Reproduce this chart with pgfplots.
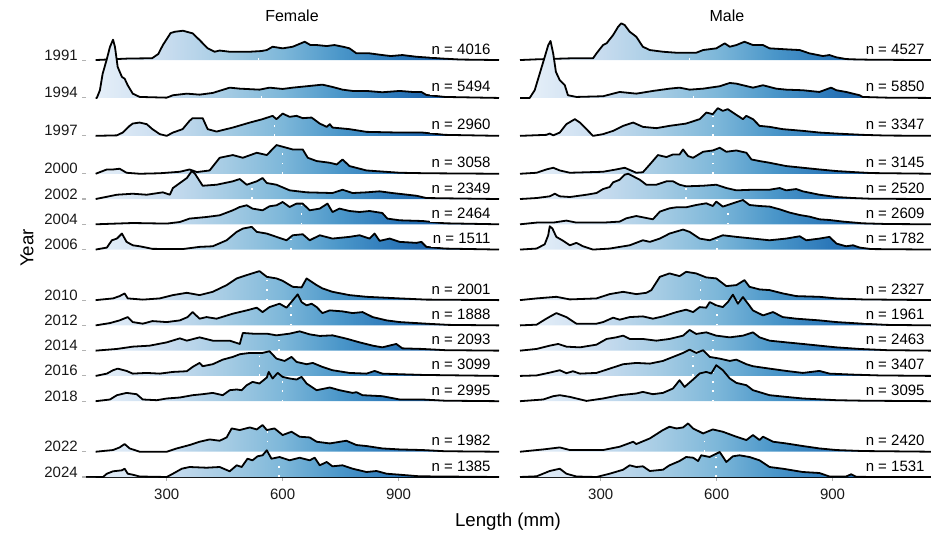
\documentclass[border=0pt]{standalone}
\usepackage{pgfplots}
\pgfplotsset{compat=1.18}
\usepackage{pgfplotstable}
\usepackage{fontspec}
\setmainfont{Liberation Sans}

\definecolor{rA}{HTML}{EAF2FA}
\definecolor{rB}{HTML}{C8DCEF}
\definecolor{rC}{HTML}{A6CCE4}
\definecolor{rD}{HTML}{7DB7D9}
\definecolor{rE}{HTML}{4A96C9}
\definecolor{rF}{HTML}{2A76B8}
\definecolor{rG}{HTML}{1B5FA6}
\definecolor{rH}{HTML}{08519C}
\pgfdeclarehorizontalshading{ridgeshade}{100bp}{color(0bp)=(rA); color(25bp)=(rA); color(34.8bp)=(rB); color(41.8bp)=(rC); color(48.8bp)=(rD); color(55.8bp)=(rE); color(62.8bp)=(rF); color(67.5bp)=(rG); color(75bp)=(rH); color(100bp)=(rH)}

% ---------------- Female ----------------
\pgfplotstableread{
x h
91 0
116 0
200 1.5
262 1.8
278 6
290 15
300 21
310 27
321 28.3
342 29.3
367 26.7
385 20
406 11.7
424 8.3
437 9.5
463 8.3
515 8.3
545 9
559 10
574 13.3
600 11.7
626 13.3
657 18.3
672 15
688 15
714 14
734 15
760 13
773 11.7
791 6.7
825 6.7
858 5
880 4
910 5
946 3.3
1013 1.5
1060 0.5
1160 0
}\FA
\pgfplotstableread{
x h
91 0
116 0
119 0
127 7.7
134 24
145 39
153 51
161 58.3
166 51
173 31
184 21
191 19.3
199 12.7
212 4.3
230 1
300 0.3
316 2.7
352 4.3
385 3.3
419 5
463 10.3
489 9.3
540 8.3
566 10.3
600 9
626 10.3
662 11.7
703 13.3
729 11
755 8.3
781 7
817 7
858 5.7
903 7
936 6
959 6
972 3
1020 1
1160 0
}\FB
\pgfplotstableread{
x h
91 0
116 0
171 0.5
186 3.3
204 10
212 12.3
230 13.3
248 11.7
263 6.7
282 1.7
300 0
316 3.3
341 6.7
359 15
367 17.7
393 17.7
406 6.7
429 4.3
471 8.3
515 13.3
548 16.7
574 20
584 16.7
600 22.3
618 19
636 20
652 17.7
675 18.3
696 12.3
714 9
722 11.7
729 8.3
773 6.7
817 4
903 3.3
962 3.3
1020 1
1160 0
}\FC
\pgfplotstableread{
x h
91 0
116 0
145 4.3
161 4.3
178 5
196 1
230 0
282 0.5
334 2
359 4.3
378 1.7
411 3.3
437 16
471 18.7
497 16
533 21
559 18.7
584 28.7
610 26
626 24.3
652 24.3
665 16
688 12.7
722 11
740 9.3
755 14.3
773 7.7
817 3.3
903 1
972 0.5
1160 0
}\FD
\pgfplotstableread{
x h
91 0
116 0
171 4.3
212 5.3
248 4.3
290 6.7
308 4.3
316 11
334 16
352 21
365 28
373 25.3
393 13.3
429 14.3
471 17.7
489 20
507 14.3
533 17.7
548 21
559 16
584 14.3
618 8.7
662 6.7
729 6
755 9.3
781 6
817 6.7
851 7.7
884 6
946 3.3
972 1
1160 0
}\FE
\pgfplotstableread{
x h
91 0
116 0
212 1.3
300 0.7
334 2.3
359 5.7
403 7.3
437 9
471 14
489 17.3
507 19
522 15.7
548 14
566 18
584 19
600 22.3
618 17.3
636 20.7
652 20.7
670 14
696 15.7
716 20.7
729 12.3
747 15.7
773 13.3
799 12.3
825 13.3
858 11.3
871 5.7
903 4
962 3.3
1020 1
1160 0
}\FF
\pgfplotstableread{
x h
91 0
116 0
145 2
158 9.3
171 11
184 16
196 7.7
212 4.3
230 3.3
263 0.7
341 0.5
385 2.7
419 3.3
455 9.3
481 17.7
497 21
520 22.7
533 17.7
559 16
584 12.7
610 9.3
626 14.3
652 15.3
670 9.3
696 14.3
729 11
773 12.7
799 14.3
825 11
838 16
851 8.7
877 11
903 7.7
946 6.7
959 7.7
972 2.7
1020 1
1160 0
}\FG
\pgfplotstableread{
x h
91 0
116 0
161 1.7
178 4
191 6.7
199 1.7
238 0.5
282 1.7
316 5
352 7.3
385 5
419 8.3
455 15
481 21.7
507 25
540 29
559 23.3
584 21.7
600 19.3
626 13.3
649 12.7
662 21.7
688 15
703 11.7
729 8.3
773 5
817 3.3
903 1.7
972 0.5
1160 0
}\FH
\pgfplotstableread{
x h
91 0
116 0
153 2.3
178 5
199 8.3
212 3.3
238 1.7
263 4.3
300 3.3
334 5
354 8.3
367 13.3
385 6.7
403 8.3
429 6.7
471 11.7
507 15
533 17.7
548 13.3
566 18.3
592 21.7
610 17.7
626 25
639 31
649 23.3
662 20
675 21.7
688 18.3
703 12.3
722 15
755 14
781 12.3
807 13.3
833 8.3
869 5
903 3.3
972 1.7
1030 0.5
1160 0
}\FI
\pgfplotstableread{
x h
91 0
116 0
171 1.7
212 4
256 5
300 8.3
334 12.3
352 10
385 13.3
419 10
463 10
489 6.7
497 17.7
522 17
559 17
584 15.3
618 17
644 19.3
670 16.3
696 14.7
729 15.3
765 12
799 8.3
833 5
858 3.3
894 6.7
910 2.3
962 1.7
1020 0.5
1160 0
}\FJ
\pgfplotstableread{
x h
91 0
116 0
145 2.3
161 5.7
173 7.3
196 5
212 2.3
248 3
282 2.3
316 4
352 4.7
367 9
385 13
393 9.7
419 11.7
445 16.3
471 19
489 21.7
515 23
548 23
566 24.7
584 17.3
605 15
623 19
636 14
662 11.7
678 13
703 9
729 5.7
773 3
817 2.3
838 5
858 2.3
903 1.7
962 1
1160 0
}\FK
\pgfplotstableread{
x h
91 0
116 0
153 1.7
171 6
196 8.3
222 7
238 1.7
274 1
300 2.7
334 3.7
367 6
393 7
419 8.3
445 6
463 11
481 11.7
494 11
507 16
522 19.3
540 17.7
559 23.7
564 29.3
574 22.7
587 28.3
600 24.3
618 22.7
636 21.7
649 24.3
662 17.7
688 11
722 13.7
747 11
781 8.3
791 9
807 6
858 5
903 1.7
962 1.7
1020 0.5
1160 0
}\FL
\pgfplotstableread{
x h
91 0
116 0
161 1.7
178 4.3
191 7.7
204 3.3
230 0
300 0
326 3.3
359 6.7
385 10
411 12.3
437 11
455 14.3
468 23.3
489 21.7
515 24.3
533 22.3
548 26.7
559 21.7
579 23.3
600 16.7
623 20
644 15
670 14.3
688 10
722 8.3
765 11
791 6.7
817 5.7
858 3.3
903 2.3
962 1.7
1020 0.5
1160 0
}\FM
\pgfplotstableread{
x h
91 0
116 0
135 0
145 3.3
161 5.7
184 6.7
191 8.3
199 3.3
212 2.3
230 0.5
300 0
316 3.3
339 8.3
359 10
403 9.3
437 10
463 5.7
481 11.7
494 10
509 18.3
522 16.7
535 20.7
548 21.7
559 26.7
571 18.3
592 20
618 16.7
644 19.3
670 16.7
683 19.3
696 11.7
714 15
729 10.7
755 11.7
781 8.3
817 5
843 6
869 3.3
903 2.3
954 0.7
1160 0
}\FN

% ---------------- Male ----------------
\pgfplotstableread{
x h
91 0
134 0.7
220 1.7
280 1.7
289 6.7
306 15
315 16.7
332 25
345 33.3
353 36.7
362 35
375 28.3
392 23.3
409 13.3
427 10
461 8.3
496 7.3
547 7.3
565 10
599 11.7
621 16.7
634 13.3
651 15
672 18.3
694 15
720 15
737 11.7
780 10.7
815 10
840 6.7
875 4
892 5
910 2.7
935 1
953 0.7
1000 0.3
1160 0
}\MA
\pgfplotstableread{
x h
91 0
116 0
129 7.7
142 24.3
155 41
164 52.7
170 57
177 44.3
184 26
194 17.7
207 12.7
215 2.7
237 1
306 1.7
349 6
392 4.3
435 7
478 9.3
504 10.3
530 8.3
565 9.3
608 11.7
634 15
651 14.3
694 10.3
720 12.7
754 9.3
780 8.3
823 7.7
866 6
896 10.3
910 7.7
935 6
970 2.7
978 1
1040 0.3
1160 0
}\MB
\pgfplotstableread{
x h
91 0
159 1
168 2.3
177 0.5
194 3.3
211 11.7
233 16.7
246 13.3
263 6.7
280 0
306 1.7
332 5
358 10
384 13.3
409 9
444 7.7
478 10
521 12.3
556 16.7
573 23.3
590 21.7
603 27.7
616 25
629 26.7
642 23.3
655 20
668 16.7
677 20
694 16.7
711 10
737 9
771 6.7
823 5
866 3.3
910 2.3
978 1
1040 0.3
1160 0
}\MC
\pgfplotstableread{
x h
91 0
134 1
159 4.3
177 6
194 3.3
220 1
306 2
340 4.3
362 6
392 1
409 1.5
427 9.3
448 18.7
470 16.7
487 19.3
504 19.3
513 24.3
526 17.7
539 16
565 22
590 23.3
608 26
625 22
651 23.3
677 21
690 14.3
711 12.7
737 11
780 7.7
823 6
866 4.3
910 2.7
953 1.7
1000 0.7
1160 0
}\MD
\pgfplotstableread{
x h
91 0
134 1
168 2.7
181 5.3
194 2.7
220 2
263 4.3
289 6
306 10
323 12
332 16.7
349 19.3
362 24.3
371 25.3
384 22.7
401 19.3
418 14.3
444 14.3
470 17.7
487 17.7
504 14.3
521 12.7
565 13.3
599 14.3
625 11
651 8.7
694 9.3
737 9.3
763 11
780 8.7
806 10
823 7.7
866 4.3
910 2
953 1
1000 0.3
1160 0
}\ME
\pgfplotstableread{
x h
91 0
134 1.7
177 1.7
211 3.7
237 1.7
306 1.7
349 2.7
366 6
392 8.3
409 7
435 5
453 12.7
478 16
496 17
521 17
547 19.3
573 21
590 18.3
599 22.7
616 17.7
642 21
668 24.3
685 19.3
711 18.3
737 17.7
763 15
789 11.7
815 9.3
840 7.7
866 5
892 4.3
927 2.7
978 1
1040 0.3
1160 0
}\MF
\pgfplotstableread{
x h
91 0
134 1
155 5.3
164 14.3
168 23.3
175 21
185 12.7
203 8.7
220 4.3
237 6.7
254 3.3
280 0
323 1
375 4.3
409 9.3
427 7.7
453 11
478 16
513 20
530 17.7
556 11
582 9.3
616 14.3
651 12.7
694 11
737 9.3
780 11
815 13.3
832 9.3
866 11
892 12.7
910 6
935 3.3
953 4.3
970 2
1000 0.5
1160 0
}\MG
\pgfplotstableread{
x h
91 0
134 1.7
185 3.3
220 0.7
289 1.7
323 6
358 8.3
392 6
418 7.3
431 10
453 23.3
478 26.7
504 24
521 28.3
547 26.7
573 22.7
599 21.7
625 14
651 15
672 20
685 13.3
711 10.7
737 10
771 6.7
806 4
866 3.3
910 1.7
978 0.7
1160 0
}\MH
\pgfplotstableread{
x h
91 0
134 0.7
159 6.7
185 12.3
211 8.3
237 1.7
289 1.7
306 3.3
332 7.7
349 5.7
375 8.3
409 9
435 6.7
461 9
496 13.3
521 15.7
539 13.3
556 18.3
573 17.7
582 23.3
599 20
616 18.3
629 23.3
642 30.7
655 21.7
668 28.3
681 21.7
694 15
720 10
746 13.3
771 8.3
806 6.7
866 5
910 3.3
978 1.7
1040 0.5
1160 0
}\MI
\pgfplotstableread{
x h
91 0
134 1.7
168 5
190 6.7
211 4
246 3.3
289 6
315 11.7
340 13.3
358 15
375 11.7
409 11.7
444 10
478 11.7
513 15
530 20.7
547 16.7
573 18.3
599 15
634 13.3
668 15
694 18.3
711 13.3
737 10
780 8.3
823 6.7
866 5
910 3.3
970 1.7
1040 0.5
1160 0
}\MJ
\pgfplotstableread{
x h
91 0
134 0.5
168 3.3
194 5.7
211 2.7
228 4.7
246 2.3
289 3
323 7.3
358 11.7
392 13
427 12.3
461 15
487 19
513 23
530 26.3
547 23
565 25.7
582 19
608 17.3
634 15
651 16.3
677 11.7
694 9.7
737 7.3
780 5
823 3
866 5
892 2.3
953 1.3
1020 0.5
1160 0
}\MK
\pgfplotstableread{
x h
91 0
151 1.7
177 5
194 6
220 4.3
263 0.3
306 2.7
349 6
392 7.7
409 9.3
435 7
461 8.3
487 12.7
504 21
517 14.3
539 21.7
556 27.7
573 29.3
586 27.7
599 36
616 31
634 22.7
651 18.3
677 16
694 11
737 6
780 4.3
823 2.7
910 1
978 0.5
1160 0
}\ML
\pgfplotstableread{
x h
91 0
151 2.3
194 4.3
220 1.7
306 1.7
349 5
384 10
392 7.7
427 13.3
461 21.7
478 25
496 23.3
513 24.3
526 28.3
539 23.3
565 18.3
590 22.3
616 20
651 15
677 11.7
694 16.7
711 11.7
720 15
746 10
780 8.3
823 5.7
866 3.3
910 1.7
978 0.7
1160 0
}\MM
\pgfplotstableread{
x h
91 0
134 0.7
168 6
194 8.3
211 3.3
237 0.5
289 0
323 3.3
358 7.3
375 11.7
392 10
409 10.7
427 6
461 7.3
478 11.7
504 16
521 20
539 19.3
552 16
560 21.7
582 20
608 25
625 15
642 20.7
659 21.7
685 20
711 16.7
737 10
771 8.3
823 5
866 4
892 0.5
935 0.5
948 2.7
961 0.3
1000 0
1160 0
}\MN

\pgfplotsset{
  rid/.style={y filter/.expression={-#1+y/12.636}},
  ridgeaxis/.style={
    scale only axis, width=309.75pt, height=350.625pt,
    xmin=91, xmax=1160, ymin=-2024, ymax=-1987,
    clip=false,
    axis x line*=bottom, axis y line*=left,
    y axis line style={draw=none},
    x axis line style={black, line width=1pt},
    xtick={300,600,900}, xticklabels={300,600,900},
    tick align=outside, major tick length=3pt,
    tick style={black!30, line width=0.8pt},
    /pgf/number format/assume math mode=true,
    every tick label/.append style={font=\fontsize{11.25}{13}\selectfont, inner sep=0pt, text=black!90},
    xticklabel style={anchor=base, yshift=-13.5pt},
    yticklabel style={anchor=base east, xshift=-3pt},
  },
}
\tikzset{
  lab/.style={anchor=base east, fill=white, inner xsep=1.5pt, inner ysep=2.5pt, text depth=0pt, yshift=4.5pt, font=\fontsize{11.25}{13}\selectfont},
}

\newcommand{\ridge}[5]{%
  \addplot[draw=none, shade, shading=ridgeshade, rid=#1] table {#2};
  \addplot[white, line width=1.2pt, dash pattern=on 1.2pt off 5.8pt, rid=#1] coordinates {(#3,0) (#3,#4)};
  \addplot[black, line width=1.35pt, line join=round, rid=#1, restrict x to domain=#5:1200] table {#2};
}

\begin{document}
\begin{tikzpicture}
\useasboundingbox (0,0) rectangle (698.25pt,399.75pt);

% Female panel
\begin{axis}[ridgeaxis, at={(64.5pt,42pt)}, anchor=south west,
  ytick={-1991,-1994,-1997,-2000,-2002,-2004,-2006,-2010,-2012,-2014,-2016,-2018,-2022,-2024},
  yticklabels={1991,1994,1997,2000,2002,2004,2006,2010,2012,2014,2016,2018,2022,2024}]
\ridge{1991}{\FA}{538}{8.5}{110}
\ridge{1994}{\FB}{545}{8.5}{110}
\ridge{1997}{\FC}{579}{18.5}{110}
\ridge{2000}{\FD}{600}{27}{110}
\ridge{2002}{\FE}{520}{16}{110}
\ridge{2004}{\FF}{649}{20.7}{110}
\ridge{2006}{\FG}{621}{11}{110}
\ridge{2010}{\FH}{559}{23.3}{110}
\ridge{2012}{\FI}{621}{21}{110}
\ridge{2014}{\FJ}{590}{15.6}{110}
\ridge{2016}{\FK}{540}{23}{110}
\ridge{2018}{\FL}{600}{24.3}{110}
\ridge{2022}{\FM}{561}{22}{110}
\ridge{2024}{\FN}{590}{20}{110}
\node[lab] at (axis cs:1144,-1991) {n = 4016};
\node[lab] at (axis cs:1144,-1994) {n = 5494};
\node[lab] at (axis cs:1144,-1997) {n = 2960};
\node[lab] at (axis cs:1144,-2000) {n = 3058};
\node[lab] at (axis cs:1144,-2002) {n = 2349};
\node[lab] at (axis cs:1144,-2004) {n = 2464};
\node[lab] at (axis cs:1144,-2006) {n = 1511};
\node[lab] at (axis cs:1144,-2010) {n = 2001};
\node[lab] at (axis cs:1144,-2012) {n = 1888};
\node[lab] at (axis cs:1144,-2014) {n = 2093};
\node[lab] at (axis cs:1144,-2016) {n = 3099};
\node[lab] at (axis cs:1144,-2018) {n = 2995};
\node[lab] at (axis cs:1144,-2022) {n = 1982};
\node[lab] at (axis cs:1144,-2024) {n = 1385};
\end{axis}

% Male panel
\begin{axis}[ridgeaxis, at={(390pt,42pt)}, anchor=south west, ytick=\empty]
\ridge{1991}{\MA}{530}{7.3}{80}
\ridge{1994}{\MB}{540}{8.6}{80}
\ridge{1997}{\MC}{590}{21.7}{80}
\ridge{2000}{\MD}{590}{23.3}{80}
\ridge{2002}{\ME}{520}{12.8}{80}
\ridge{2004}{\MF}{629}{19.4}{80}
\ridge{2006}{\MG}{601}{10}{80}
\ridge{2010}{\MH}{558}{25}{80}
\ridge{2012}{\MI}{601}{20}{80}
\ridge{2014}{\MJ}{590}{16}{80}
\ridge{2016}{\MK}{539}{24.6}{80}
\ridge{2018}{\ML}{590}{28.9}{80}
\ridge{2022}{\MM}{569}{19}{80}
\ridge{2024}{\MN}{599}{23}{80}
\node[lab] at (axis cs:1144,-1991) {n = 4527};
\node[lab] at (axis cs:1144,-1994) {n = 5850};
\node[lab] at (axis cs:1144,-1997) {n = 3347};
\node[lab] at (axis cs:1144,-2000) {n = 3145};
\node[lab] at (axis cs:1144,-2002) {n = 2520};
\node[lab] at (axis cs:1144,-2004) {n = 2609};
\node[lab] at (axis cs:1144,-2006) {n = 1782};
\node[lab] at (axis cs:1144,-2010) {n = 2327};
\node[lab] at (axis cs:1144,-2012) {n = 1961};
\node[lab] at (axis cs:1144,-2014) {n = 2463};
\node[lab] at (axis cs:1144,-2016) {n = 3407};
\node[lab] at (axis cs:1144,-2018) {n = 3095};
\node[lab] at (axis cs:1144,-2022) {n = 2420};
\node[lab] at (axis cs:1144,-2024) {n = 1531};
\end{axis}

\node[font=\fontsize{12}{14}\selectfont, anchor=base] at (219pt,383.25pt) {Female};
\node[font=\fontsize{12}{14}\selectfont, anchor=base] at (545.25pt,383.25pt) {Male};
\node[font=\fontsize{14}{16}\selectfont, anchor=base] at (381pt,5.25pt) {Length (mm)};
\node[font=\fontsize{14}{16}\selectfont, anchor=base, rotate=90] at (25pt,213.75pt) {Year};
\end{tikzpicture}
\end{document}
